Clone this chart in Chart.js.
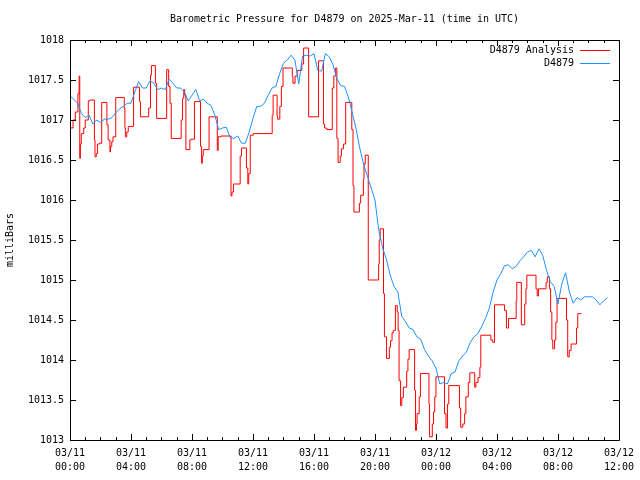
<!DOCTYPE html>
<html>
<head>
<meta charset="utf-8">
<script src="https://cdn.jsdelivr.net/npm/chart.js@4/dist/chart.umd.min.js"></script>
<style>
  body { margin: 0; background: #fff; }
  canvas { display: block; }
</style>
</head>
<body>
<canvas id="baro-chart" width="640" height="480"></canvas>
<script>
// hours since 03/11 00:00 UTC
const blueStep = 0.25;
const blueValues = [
    1017.30, 1017.26, 1017.21, 1017.08, 1017.03, 1017.06, 1016.95, 1017.00,
    1016.97, 1017.01, 1017.01, 1017.03, 1017.09, 1017.14, 1017.17, 1017.21,
    1017.21, 1017.35, 1017.48, 1017.40, 1017.40, 1017.49, 1017.46, 1017.38,
    1017.40, 1017.38, 1017.51, 1017.46, 1017.40, 1017.40, 1017.35, 1017.24,
    1017.31, 1017.38, 1017.24, 1017.26, 1017.21, 1017.18, 1017.06, 1016.88,
    1016.90, 1016.91, 1016.78, 1016.77, 1016.80, 1016.71, 1016.71, 1016.85,
    1017.02, 1017.17, 1017.17, 1017.21, 1017.31, 1017.40, 1017.42, 1017.58,
    1017.71, 1017.75, 1017.81, 1017.75, 1017.45, 1017.80, 1017.81, 1017.80,
    1017.83, 1017.62, 1017.61, 1017.83, 1017.79, 1017.69, 1017.52, 1017.43,
    1017.42, 1017.29, 1017.10, 1016.90, 1016.65, 1016.45, 1016.30, 1016.15,
    1016.00, 1015.62, 1015.40, 1015.26, 1015.06, 1014.92, 1014.85, 1014.55,
    1014.48, 1014.40, 1014.38, 1014.29, 1014.26, 1014.13, 1014.05, 1013.99,
    1013.90, 1013.70, 1013.72, 1013.70, 1013.83, 1013.85, 1013.99, 1014.05,
    1014.10, 1014.22, 1014.29, 1014.33, 1014.42, 1014.52, 1014.65, 1014.85,
    1015.00, 1015.08, 1015.18, 1015.19, 1015.14, 1015.17, 1015.24, 1015.29,
    1015.35, 1015.37, 1015.29, 1015.39, 1015.31, 1015.12, 1014.98, 1014.92,
    1014.70, 1014.95, 1015.09, 1014.85, 1014.71, 1014.78, 1014.75, 1014.79,
    1014.79, 1014.79, 1014.75, 1014.69, 1014.74, 1014.78
];

const redTimes = [
    0.00, 0.20, 0.35, 0.52, 0.60, 0.64, 0.68, 0.74, 0.90, 1.00,
    1.20, 1.30, 1.60, 1.64, 1.72, 1.80, 1.95, 2.08, 2.42, 2.50,
    2.62, 2.66, 2.74, 2.82, 3.00, 3.56, 3.60, 3.63, 3.72, 3.82,
    4.17, 4.56, 4.62, 5.16, 5.28, 5.34, 5.60, 5.68, 6.34, 6.47,
    6.56, 6.64, 7.29, 7.38, 7.46, 7.52, 7.60, 7.86, 7.95, 8.16,
    8.56, 8.63, 8.68, 8.74, 9.12, 9.66, 9.72, 9.90, 10.56, 10.62,
    10.72, 11.16, 11.25, 11.57, 11.66, 11.72, 11.82, 12.02, 13.26, 13.32,
    13.58, 13.62, 13.76, 13.86, 13.97, 14.58, 14.62, 14.76, 14.90, 15.20,
    15.32, 15.65, 16.30, 16.62, 16.70, 16.84, 17.20, 17.30, 17.42, 17.50,
    17.58, 17.72, 17.80, 17.94, 18.08, 18.48, 18.56, 18.62, 18.98, 19.06,
    19.24, 19.28, 19.36, 19.56, 20.24, 20.28, 20.34, 20.56, 20.62, 20.76,
    20.94, 21.02, 21.12, 21.20, 21.34, 21.46, 21.52, 21.58, 21.68, 21.76,
    21.86, 22.08, 22.16, 22.24, 22.60, 22.66, 22.72, 22.76, 22.90, 22.98,
    23.54, 23.58, 23.76, 23.84, 23.92, 24.00, 24.56, 24.66, 24.76, 24.84,
    25.54, 25.62, 25.76, 25.88, 25.96, 26.12, 26.22, 26.54, 26.62, 26.76,
    26.88, 26.94, 27.60, 27.72, 27.84, 28.50, 28.62, 28.76, 29.26, 29.30,
    29.60, 29.82, 29.90, 29.96, 30.56, 30.64, 30.72, 31.22, 31.30, 31.44,
    31.52, 31.60, 31.66, 31.78, 31.86, 31.94, 32.56, 32.64, 32.74, 32.86,
    33.22, 33.30, 33.53
];
const redValues = [
    1016.90, 1017.00, 1017.10, 1017.33, 1017.55, 1016.52, 1016.70, 1016.83, 1016.90, 1017.00,
    1017.24, 1017.25, 1016.75, 1016.54, 1016.58, 1016.70, 1016.71, 1017.22, 1016.94, 1016.75,
    1016.60, 1016.67, 1016.73, 1016.79, 1017.28, 1017.15, 1016.90, 1016.79, 1016.85, 1016.92,
    1017.41, 1017.23, 1017.04, 1017.15, 1017.56, 1017.68, 1017.46, 1017.02, 1017.63, 1017.42,
    1017.21, 1016.77, 1017.00, 1017.27, 1017.38, 1017.31, 1016.63, 1016.75, 1016.76, 1017.23,
    1016.67, 1016.46, 1016.55, 1016.63, 1017.04, 1016.62, 1016.79, 1016.80, 1016.05, 1016.10,
    1016.20, 1016.55, 1016.65, 1016.40, 1016.20, 1016.33, 1016.81, 1016.83, 1017.06, 1017.31,
    1017.05, 1017.01, 1017.17, 1017.42, 1017.65, 1017.54, 1017.46, 1017.55, 1017.62, 1017.70,
    1017.90, 1017.04, 1017.74, 1016.95, 1016.90, 1016.88, 1017.40, 1017.55, 1017.65, 1016.77,
    1016.47, 1016.55, 1016.64, 1016.70, 1017.22, 1016.88, 1016.18, 1015.85, 1015.96, 1016.06,
    1016.26, 1016.45, 1016.56, 1015.00, 1015.20, 1015.50, 1015.64, 1014.83, 1014.29, 1014.02,
    1014.16, 1014.24, 1014.34, 1014.37, 1014.68, 1014.60, 1014.37, 1013.74, 1013.43, 1013.53,
    1013.66, 1013.86, 1014.01, 1014.13, 1013.62, 1013.12, 1013.20, 1013.33, 1013.54, 1013.83,
    1013.45, 1013.04, 1013.20, 1013.35, 1013.54, 1013.79, 1013.33, 1013.15, 1013.45, 1013.68,
    1013.40, 1013.16, 1013.20, 1013.33, 1013.54, 1013.72, 1013.84, 1013.66, 1013.72, 1013.78,
    1013.91, 1014.31, 1014.25, 1014.22, 1014.69, 1014.62, 1014.40, 1014.52, 1014.74, 1014.97,
    1014.44, 1014.70, 1014.89, 1015.06, 1014.89, 1014.80, 1014.89, 1014.97, 1015.04, 1014.89,
    1014.60, 1014.25, 1014.14, 1014.25, 1014.47, 1014.77, 1014.50, 1014.04, 1014.12, 1014.20,
    1014.40, 1014.58, 1014.58
];

const dayLabels = ["03/11", "03/12"];
const titleText = "Barometric Pressure for D4879 on 2025-Mar-11 (time in UTC)";
const redColor = "#ff0000";
const blueColor = "#1e90ff";
const monoFont = "10px 'DejaVu Sans Mono'";

Chart.defaults.font.family = "'DejaVu Sans Mono', monospace";
Chart.defaults.font.size = 10;
Chart.defaults.color = "#000";

function hourLabel(h) {
    const day = dayLabels[Math.floor(h / 24)];
    const hh = String(h % 24).padStart(2, "0");
    return [day, hh + ":00"];
}

// gnuplot style frame, inward tics, title and legend
const gnuFrame = {
    id: "gnuFrame",
    afterDraw(chart) {
        const ctx = chart.ctx;
        const a = chart.chartArea;
        const xs = chart.scales.x, ys = chart.scales.y;
        ctx.save();
        ctx.strokeStyle = "#000";
        ctx.lineWidth = 1;
        ctx.beginPath();
        ctx.rect(Math.round(a.left) + 0.5, Math.round(a.top) + 0.5,
                 Math.round(a.right - a.left), Math.round(a.bottom - a.top));
        for (let h = 0; h <= 36; h++) {
            const px = Math.round(xs.getPixelForValue(h)) + 0.5;
            const len = h % 4 === 0 ? 6 : 3;
            ctx.moveTo(px, a.bottom); ctx.lineTo(px, a.bottom - len);
            ctx.moveTo(px, a.top); ctx.lineTo(px, a.top + len);
        }
        for (let v = 1013; v <= 1018; v += 0.5) {
            const py = Math.round(ys.getPixelForValue(v)) + 0.5;
            ctx.moveTo(a.left, py); ctx.lineTo(a.left + 6, py);
            ctx.moveTo(a.right, py); ctx.lineTo(a.right - 6, py);
        }
        ctx.stroke();

        ctx.fillStyle = "#000";
        ctx.font = monoFont;
        ctx.textBaseline = "middle";
        ctx.textAlign = "center";
        ctx.fillText(titleText, (a.left + a.right) / 2, 19);

        const rows = [["D4879 Analysis", redColor], ["D4879", blueColor]];
        rows.forEach((r, i) => {
            const y = 50 + i * 13;
            ctx.textAlign = "right";
            ctx.fillStyle = "#000";
            ctx.fillText(r[0], 574, y);
            ctx.strokeStyle = r[1];
            ctx.beginPath();
            ctx.moveTo(580, y + 0.5);
            ctx.lineTo(610, y + 0.5);
            ctx.stroke();
        });
        ctx.restore();
    }
};

new Chart(document.getElementById("baro-chart"), {
    type: "line",
    data: {
        datasets: [
            {
                label: "D4879",
                data: blueValues.map((v, i) => ({ x: i * blueStep, y: v })),
                borderColor: blueColor,
                borderWidth: 1,
                pointRadius: 0,
                tension: 0
            },
            {
                label: "D4879 Analysis",
                data: redTimes.map((t, i) => ({ x: t, y: redValues[i] })),
                borderColor: redColor,
                borderWidth: 1,
                pointRadius: 0,
                stepped: "before"
            }
        ]
    },
    options: {
        responsive: false,
        animation: false,
        devicePixelRatio: 1,
        layout: { padding: { top: 40, right: 18, left: 0, bottom: 0 } },
        plugins: {
            legend: { display: false },
            title: { display: false },
            tooltip: { enabled: false }
        },
        scales: {
            x: {
                type: "linear",
                min: 0,
                max: 36,
                grid: { display: false, drawTicks: false },
                border: { display: false },
                ticks: {
                    stepSize: 4,
                    autoSkip: false,
                    maxRotation: 0,
                    padding: 6,
                    font: { size: 10, lineHeight: 1.4 },
                    callback: (v) => hourLabel(v)
                },
                afterFit: (s) => { s.height = 40; }
            },
            y: {
                min: 1013,
                max: 1018,
                grid: { display: false, drawTicks: false },
                border: { display: false },
                ticks: {
                    stepSize: 0.5,
                    padding: 6,
                    callback: (v) => String(v)
                },
                title: {
                    display: true,
                    text: "milliBars",
                    padding: { top: 4, bottom: 0 }
                },
                afterFit: (s) => { s.width = 70; }
            }
        }
    },
    plugins: [gnuFrame]
});
</script>
</body>
</html>
